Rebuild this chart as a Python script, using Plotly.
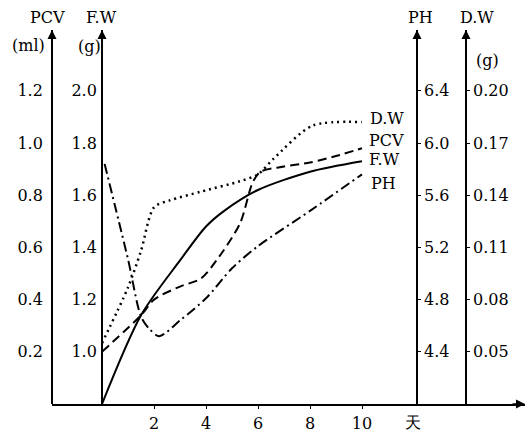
import plotly.graph_objects as go

# ---- data ----
fw_days = [0, 1.5, 3, 4, 4.7, 6, 8, 10]
fw_vals = [0.80, 1.14, 1.35, 1.48, 1.54, 1.62, 1.69, 1.73]

pcv_days = [0, 1.5, 2, 3, 3.8, 4.4, 5.3, 5.8, 6.1, 7, 8, 9, 10]
pcv_vals = [0.20, 0.34, 0.40, 0.45, 0.48, 0.55, 0.69, 0.85, 0.89, 0.91, 0.925, 0.95, 0.98]

ph_days = [0.1, 1, 1.5, 1.8, 2.2, 3, 4, 5, 6, 8, 10]
ph_vals = [5.84, 5.11, 4.67, 4.58, 4.52, 4.64, 4.81, 5.04, 5.21, 5.48, 5.76]

dw_days = [0, 1, 1.5, 2, 2.6, 3.8, 5.3, 6, 6.6, 8.1, 10]
dw_vals = [0.055, 0.087, 0.108, 0.133, 0.137, 0.142, 0.148, 0.152, 0.161, 0.180, 0.182]

x_ticks = [2, 4, 6, 8, 10]
pcv_ticks = [0.2, 0.4, 0.6, 0.8, 1.0, 1.2]
pcv_ticktext = ["0.2", "0.4", "0.6", "0.8", "1.0", "1.2"]
fw_ticks = [1.0, 1.2, 1.4, 1.6, 1.8, 2.0]
fw_ticktext = ["1.0", "1.2", "1.4", "1.6", "1.8", "2.0"]
ph_ticks = [4.4, 4.8, 5.2, 5.6, 6.0, 6.4]
ph_ticktext = ["4.4", "4.8", "5.2", "5.6", "6.0", "6.4"]
dw_ticks = [0.05, 0.08, 0.11, 0.14, 0.17, 0.20]
dw_ticktext = ["0.05", "0.08", "0.11", "0.14", "0.17", "0.20"]

FONT = "DejaVu Serif"
FS = 16
W, H = 532, 433
ML, MR, MT, MB = 52, 7, 30, 29
PW = W - ML - MR
PH_ = H - MT - MB
px_per_day = 26.0
day0_px = 102
base_px = H - MB

x_lo = (ML - day0_px) / px_per_day
x_hi = (W - MR - day0_px) / px_per_day
span = PH_ / 261.0  # PCV units over plot height

def xfrac(px):
    return (px - ML) / PW

def yfrac(py):
    return (base_px - py) / PH_

fig = go.Figure()
line_common = dict(color="black", shape="spline", smoothing=0.8)
fig.add_trace(go.Scatter(x=fw_days, y=fw_vals, mode="lines", yaxis="y2",
                         line=dict(width=2, dash="solid", **line_common), name="F.W"))
fig.add_trace(go.Scatter(x=pcv_days, y=pcv_vals, mode="lines", yaxis="y",
                         line=dict(width=2, dash="9px,5px", **line_common), name="PCV"))
fig.add_trace(go.Scatter(x=ph_days, y=ph_vals, mode="lines", yaxis="y3",
                         line=dict(width=2, dash="10px,4px,2px,4px", **line_common), name="PH"))
fig.add_trace(go.Scatter(x=dw_days, y=dw_vals, mode="lines", yaxis="y4",
                         line=dict(width=2.5, dash="2px,4px", **line_common), name="D.W"))

axis_base = dict(showgrid=False, zeroline=False, showline=True, linecolor="black",
                 linewidth=1.8, automargin=False,
                 tickfont=dict(family=FONT, size=FS, color="black"))

fig.update_layout(
    width=W, height=H, margin=dict(l=ML, r=MR, t=MT, b=MB, autoexpand=False),
    plot_bgcolor="white", paper_bgcolor="white", showlegend=False,
    font=dict(family=FONT, size=FS, color="black"),
    xaxis=dict(range=[x_lo, x_hi], tickvals=x_ticks, ticks="outside", ticklen=3,
               tickcolor="black", domain=[0, 1], ticklabelstandoff=1, **axis_base),
    yaxis=dict(range=[0, span], tickvals=pcv_ticks, ticktext=pcv_ticktext, ticks="",
               side="left", anchor="free", position=0, ticklabelstandoff=5, **axis_base),
    yaxis2=dict(range=[0.8, 0.8 + span], tickvals=fw_ticks, ticktext=fw_ticktext,
                ticks="", side="left", anchor="free", position=xfrac(102),
                overlaying="y", ticklabelstandoff=1, **axis_base),
    yaxis3=dict(range=[4.0, 4.0 + 2 * span], tickvals=ph_ticks, ticktext=ph_ticktext,
                ticks="outside", ticklen=3, tickcolor="black", side="right",
                anchor="free", position=xfrac(417), overlaying="y", **axis_base),
    yaxis4=dict(range=[0.02, 0.02 + 0.15 * span], tickvals=dw_ticks, ticktext=dw_ticktext,
                ticks="outside", ticklen=3, tickcolor="black", side="right",
                anchor="free", position=xfrac(466), overlaying="y", **axis_base),
)

ann = []
def txt(t, px, py, xanchor="center"):
    ann.append(dict(text=t, x=xfrac(px), y=yfrac(py), xref="paper", yref="paper",
                    showarrow=False, xanchor=xanchor, yanchor="middle",
                    font=dict(family=FONT, size=FS, color="black")))

txt("PCV", 47, 17)
txt("(ml)", 28, 45)
txt("F.W", 101, 17)
txt("(g)", 89, 47)
txt("PH", 420, 17)
txt("D.W", 477, 17)
txt("(g)", 487, 60)
txt("D.W", 368, 118, "left")
txt("PCV", 367, 140, "left")
txt("F.W", 367, 160, "left")
txt("PH", 369, 183, "left")
txt("天", 413, 422)

# arrow heads at the axis ends
for px in [52, 102, 417, 466]:
    ann.append(dict(x=xfrac(px), y=1, xref="paper", yref="paper", ax=0, ay=14,
                    text="", showarrow=True, arrowhead=2, arrowsize=1.2,
                    arrowwidth=1.5, arrowcolor="black"))
ann.append(dict(x=1, y=0, xref="paper", yref="paper", ax=-14, ay=0,
                text="", showarrow=True, arrowhead=2, arrowsize=1.2,
                arrowwidth=1.5, arrowcolor="black"))

fig.update_layout(annotations=ann)
fig.write_html("out.html", config={"displayModeBar": False},
               post_script="document.body.style.margin='0';document.body.style.overflow='hidden';")
